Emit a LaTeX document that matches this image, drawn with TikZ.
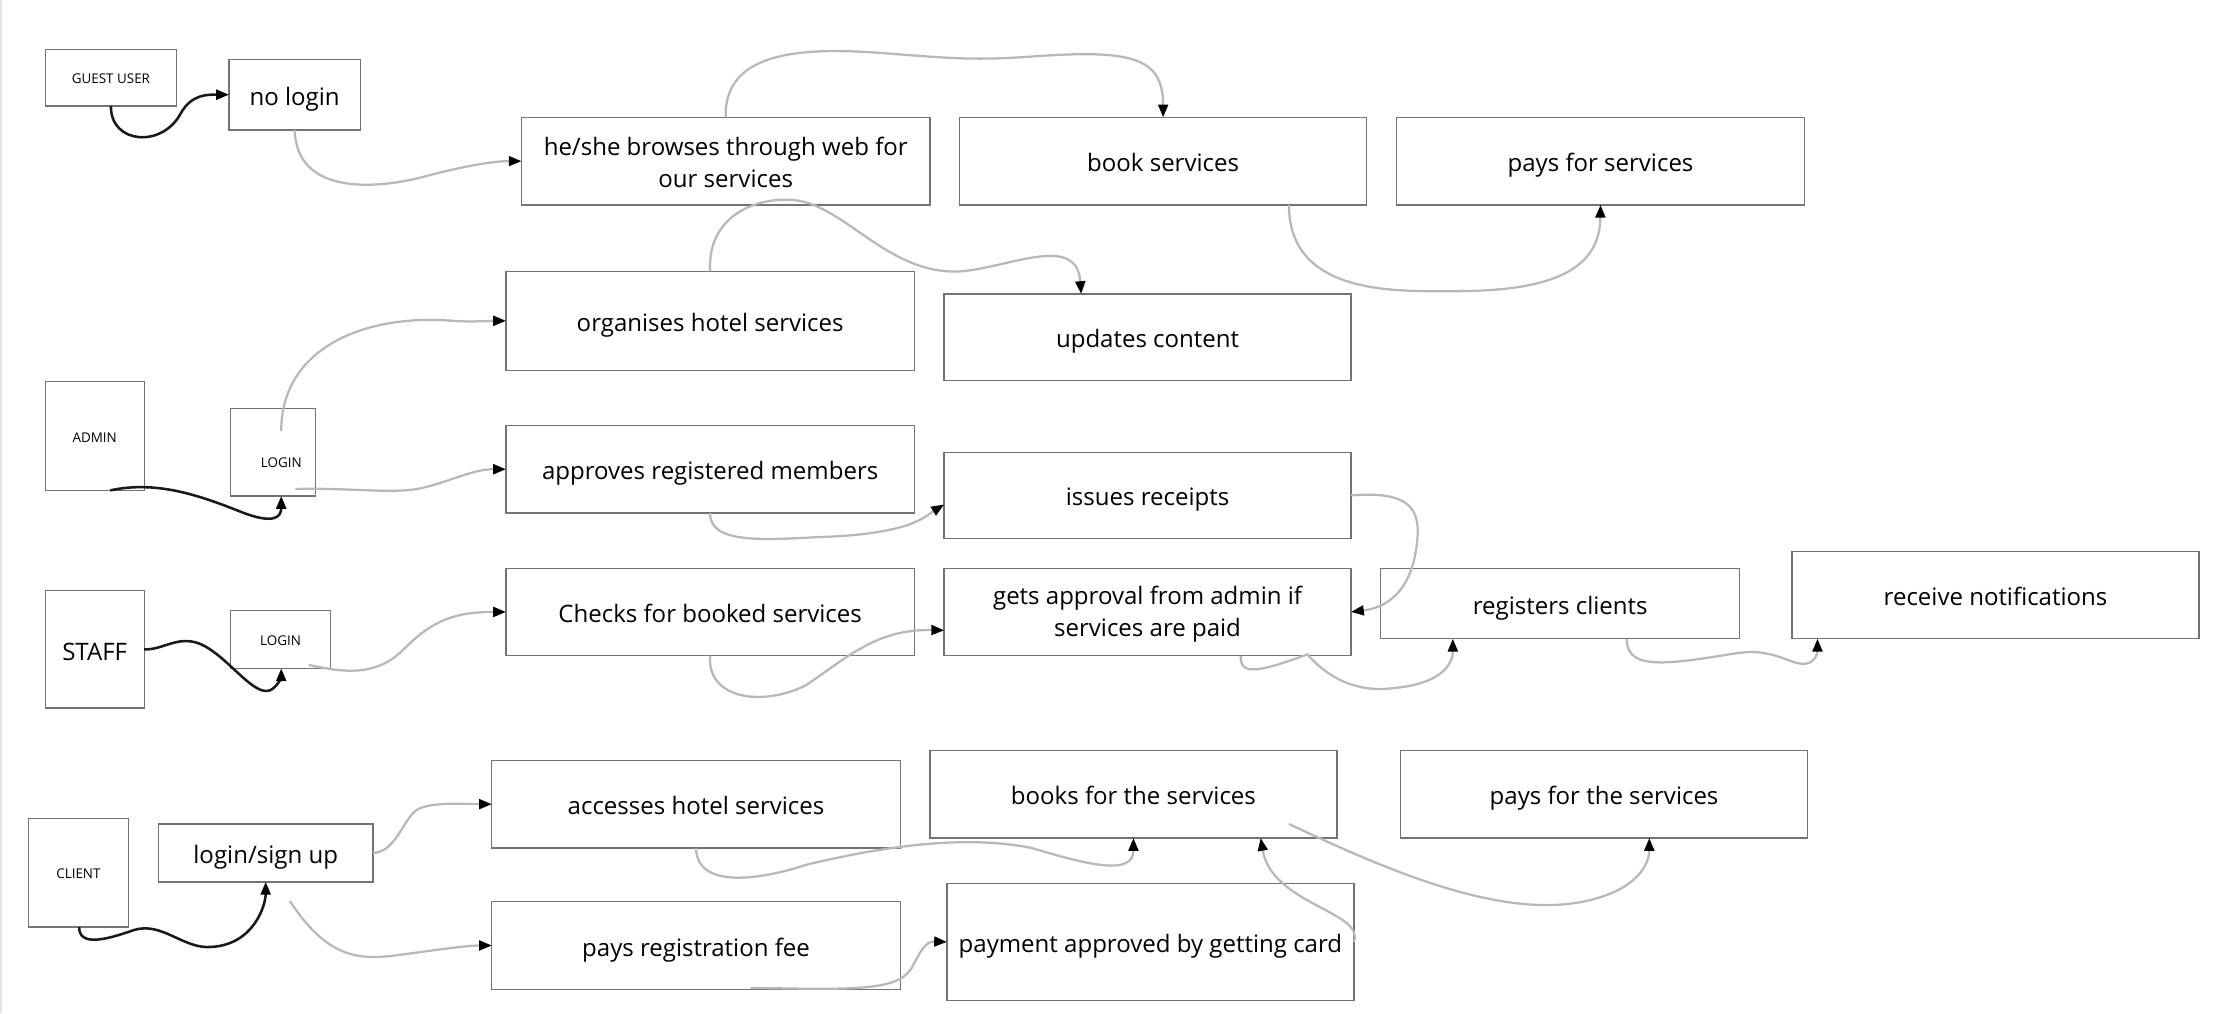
\documentclass[tikz,border=0pt]{standalone}
\usepackage{fontspec}
\setmainfont{Open Sans}
\usetikzlibrary{arrows.meta}

\begin{document}
\begin{tikzpicture}[
			x=1pt, y=-1pt,
			box/.style={draw=black!55, line width=0.9pt, rectangle, inner sep=0pt, outer sep=0pt, align=center, font=\fontsize{17}{23}\selectfont, text height=16pt, text depth=1pt},
			twoline/.style={box, text height=, text depth=},
			tiny/.style={box, font=\fontsize{9.5}{11}\selectfont, text height=9.5pt, text depth=1pt},
			flow/.style={draw=black!28, line width=1.6pt, -{Triangle[length=9pt, width=7pt, black]}},
			link/.style={draw=black!90, line width=1.8pt, -{Triangle[length=9pt, width=7pt, black]}}
			]
			\useasboundingbox (0,0) rectangle (1568,717);
			\draw [black!10, line width=1.5pt] (1,0) -- (1,717);
			
			% Nodes
			\node (guest) [tiny, minimum width=93, minimum height=40] at (78.5,55) {GUEST USER};
			\node (nologin) [box, minimum width=93, minimum height=50] at (208.5,67) {no login};
			\node (browse) [twoline, minimum width=289, minimum height=62] at (513.5,114) {\rule{0pt}{15pt}he/she browses through web for\\our services};
			\node (book) [box, minimum width=288, minimum height=62] at (823,114) {book services};
			\node (pays) [box, minimum width=289, minimum height=62] at (1132.5,114) {pays for services};
			\node (organise) [box, minimum width=289, minimum height=70] at (502.5,227) {organises hotel services};
			\node (updates) [box, minimum width=288, minimum height=61] at (812,238.5) {updates content};
			\node (admin) [tiny, minimum width=70, minimum height=77] at (67,308.5) {ADMIN};
			\node (alogin) [tiny, minimum width=60, minimum height=62, text height=21pt, text depth=0pt] at (193,320) {\hspace*{12pt}LOGIN};
			\node (approves) [box, minimum width=289, minimum height=62] at (502.5,332) {approves registered members};
			\node (issues) [box, minimum width=288, minimum height=61] at (812,350.5) {issues receipts};
			\node (staff) [box, minimum width=70, minimum height=83] at (67,459.5) {STAFF};
			\node (slogin) [tiny, minimum width=71, minimum height=41] at (198.5,452.5) {LOGIN};
			\node (checks) [box, minimum width=289, minimum height=62] at (502.5,433) {Checks for booked services};
			\node (approval) [twoline, minimum width=288, minimum height=62] at (812,433) {\rule{0pt}{16pt}gets approval from admin if\\services are paid};
			\node (registers) [box, minimum width=254, minimum height=50] at (1104,427) {registers clients};
			\node (notify) [box, minimum width=288, minimum height=62] at (1412,421) {receive notifications};
			\node (accesses) [box, minimum width=289, minimum height=62] at (492.5,569) {accesses hotel services};
			\node (books) [box, minimum width=288, minimum height=62] at (802,562) {books for the services};
			\node (paysthe) [box, minimum width=288, minimum height=62] at (1135,562) {pays for the services};
			\node (client) [tiny, minimum width=71, minimum height=77] at (55.5,617.5) {CLIENT};
			\node (signup) [box, minimum width=152, minimum height=41] at (188,603.5) {login/sign up};
			\node (regfee) [box, minimum width=289, minimum height=62] at (492.5,669) {pays registration fee};
			\node (payment) [box, minimum width=288, minimum height=83] at (814,666.5) {payment approved by getting card};
			
			% Connections
			\draw [link] (guest.south) .. controls (78,102) and (115,105) .. (128,80) .. controls (136,66) and (148,67) .. (nologin.west);
			\draw [flow] (nologin.south) .. controls (210,140) and (270,133) .. (300,125) .. controls (330,117) and (350,114) .. (browse.west);
			\draw [flow] (browse.north) .. controls (512,35) and (570,33) .. (630,38) .. controls (670,41) and (690,43) .. (730,40) .. controls (800,35) and (823,40) .. (book.north);
			\draw [flow] (organise.north) .. controls (500,150) and (540,138) .. (565,142) .. controls (600,148) and (630,195) .. (680,192) .. controls (715,189) and (762,165) .. ([xshift=-47pt]updates.north);
			\draw [flow] ([xshift=89pt]book.south) .. controls (912,210) and (990,206) .. (1030,206) .. controls (1100,206) and (1132,190) .. (pays.south);
			\draw [link] ([xshift=11pt]admin.south) .. controls (110,340) and (140,350) .. (170,362) .. controls (195,372) and (199,365) .. ([xshift=6pt]alogin.south);
			\draw [flow] ([shift={(6pt,15pt)}]alogin.center) .. controls (199,245) and (260,222) .. (320,227) .. controls (335,228) and (345,227) .. (organise.west);
			\draw [flow] ([shift={(16pt,-26pt)}]alogin.center) .. controls (250,345) and (280,350) .. (300,345) .. controls (320,340) and (335,332) .. (approves.west);
			\draw [flow] (approves.south) .. controls (502,385) and (540,382) .. (580,380) .. controls (645,378) and (655,365) .. ([yshift=-6.5pt]issues.west);
			\draw [flow] (issues.east) .. controls (990,348) and (1005,355) .. (1003,380) .. controls (1000,420) and (980,430) .. (approval.east);
			\draw [link] (staff.east) .. controls (115,460) and (125,450) .. (140,455) .. controls (160,462) and (180,495) .. (192,488) .. controls (198,484) and (199,478) .. ([xshift=0.5pt]slogin.south);
			\draw [flow] ([shift={(20pt,-18pt)}]slogin.center) .. controls (240,475) and (265,480) .. (285,460) .. controls (305,440) and (320,433) .. (checks.west);
			\draw [flow] (checks.south) .. controls (500,495) and (540,500) .. (570,485) .. controls (600,465) and (620,445) .. ([yshift=-13pt]approval.west);
			\draw [flow] ([xshift=66pt]approval.south) .. controls (877,478) and (890,476) .. (925,463) .. controls (940,480) and (960,490) .. (985,487) .. controls (1020,484) and (1028,470) .. ([xshift=-76pt]registers.south);
			\draw [flow] ([xshift=47pt]registers.south) .. controls (1151,475) and (1180,470) .. (1230,462) .. controls (1260,458) and (1270,475) .. (1282,468) .. controls (1286,465) and (1286,460) .. ([xshift=-126pt]notify.south);
			\draw [link] ([xshift=0.5pt]client.south) .. controls (56,670) and (75,665) .. (95,658) .. controls (115,652) and (130,672) .. (150,670) .. controls (180,668) and (188,640) .. (signup.south);
			\draw [flow] (signup.east) .. controls (280,603) and (285,580) .. (295,573) .. controls (305,567) and (330,569) .. (accesses.west);
			\draw [flow] ([shift={(17pt,-34pt)}]signup.center) .. controls (230,675) and (250,680) .. (280,676) .. controls (310,672) and (330,669) .. (regfee.west);
			\draw [flow] (accesses.south) .. controls (493,630) and (540,622) .. (570,612) .. controls (620,600) and (680,590) .. (730,600) .. controls (770,612) and (802,620) .. (books.south);
			\draw [flow] ([shift={(110pt,-21pt)}]books.center) .. controls (980,615) and (1060,650) .. (1120,638) .. controls (1160,630) and (1167,610) .. ([xshift=32pt]paysthe.south);
			\draw [flow] ([xshift=144pt]payment.center) .. controls (966,645) and (900,640) .. ([xshift=90pt]books.south);
			\draw [flow] ([shift={(38.5pt,-30pt)}]regfee.center) .. controls (600,700) and (635,702) .. (645,685) .. controls (652,672) and (655,666) .. (payment.west);
			
		\end{tikzpicture}
\end{document}
